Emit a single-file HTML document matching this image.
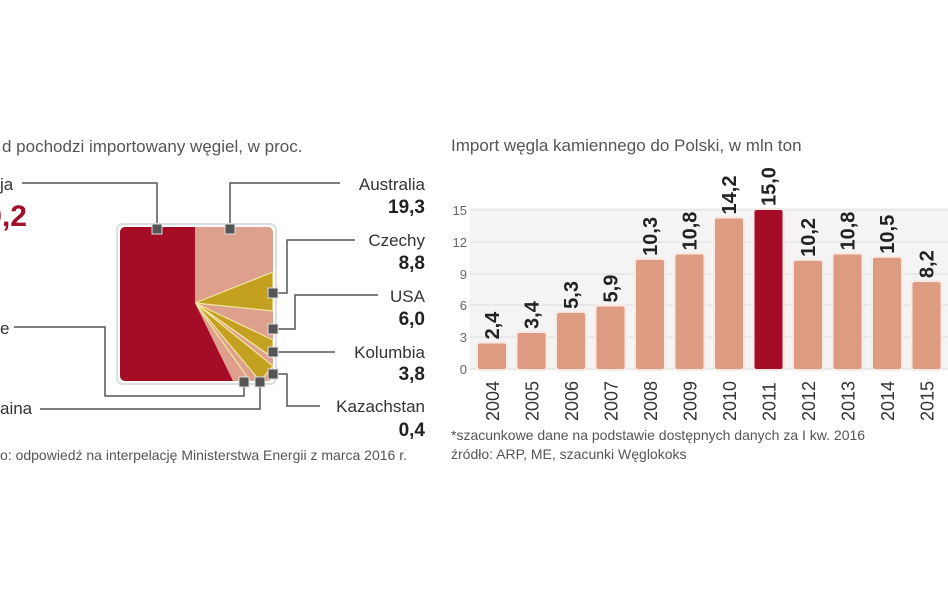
<!DOCTYPE html>
<html><head><meta charset="utf-8"><style>
html,body{margin:0;padding:0;background:#fff}
svg{display:block}
text{font-family:"Liberation Sans",sans-serif}
</style></head><body>
<svg width="948" height="593" viewBox="0 0 948 593">
<rect width="948" height="593" fill="#fff"/>
<!-- left panel -->
<text x="2" y="152" font-size="17" fill="#555">d pochodzi importowany węgiel, w proc.</text>
<text x="0" y="190" font-size="17" fill="#333">ja</text>
<text x="27" y="226" font-size="30" font-weight="bold" fill="#a0102a" text-anchor="end">0,2</text>
<text x="0" y="334" font-size="17" fill="#333">e</text>
<text x="0" y="414" font-size="17" fill="#333">aina</text>
<text x="0" y="460" font-size="14" fill="#555">o: odpowiedź na interpelację Ministerstwa Energii z marca 2016 r.</text>
<g stroke="#555" stroke-width="1.5" fill="none">
<polyline points="22,183 157,183 157,229"/>
<polyline points="230,229 230,183 340,183"/>
<polyline points="273,293 287,293 287,240 355,240"/>
<polyline points="273,329 295,329 295,295 378,295"/>
<polyline points="273,352 335,352"/>
<polyline points="273,374 287,374 287,406 320,406"/>
<polyline points="14,327 105,327 105,396 244,396 244,382"/>
<polyline points="40,409 260,409 260,382"/>
</g>
<rect x="117" y="224" width="159" height="160" rx="6" fill="#fff" stroke="#ddd" stroke-width="2"/>
<clipPath id="c"><rect x="120" y="227" width="153" height="154" rx="5"/></clipPath>
<g clip-path="url(#c)" stroke="#f3e6a0" stroke-width="1.2">
<rect x="120" y="227" width="153" height="154" fill="#dda08c" stroke="none"/>
<polygon points="195,303 273,272 273,311" fill="#c4a020"/>
<polygon points="195,303 273,340 273,358" fill="#c4a020"/>
<polygon points="195,303 273,366 260,381" fill="#c4a020"/>
<line x1="195" y1="303" x2="273" y2="358"/>
<line x1="195" y1="303" x2="250" y2="381"/>
<polygon points="120,227 195,227 195,303 233,381 120,381" fill="#a50d26" stroke="none"/>
</g>
<g fill="#555" stroke="#ddd" stroke-width="1">
<rect x="152" y="224" width="10" height="10"/><rect x="225" y="224" width="10" height="10"/>
<rect x="268" y="288" width="10" height="10"/><rect x="268" y="324" width="10" height="10"/>
<rect x="268" y="347" width="10" height="10"/><rect x="268" y="369" width="10" height="10"/>
<rect x="239" y="377" width="10" height="10"/><rect x="255" y="377" width="10" height="10"/>
</g>
<g font-size="17" fill="#333" text-anchor="end">
<text x="425" y="190">Australia</text><text x="425" y="246">Czechy</text>
<text x="425" y="302">USA</text><text x="425" y="358">Kolumbia</text><text x="425" y="412">Kazachstan</text>
</g>
<g font-size="19" font-weight="bold" fill="#222" text-anchor="end">
<text x="425" y="213">19,3</text><text x="425" y="269">8,8</text><text x="425" y="325">6,0</text>
<text x="425" y="380">3,8</text><text x="425" y="436">0,4</text>
</g>
<!-- right panel -->
<text x="451" y="151" font-size="17" fill="#555">Import węgla kamiennego do Polski, w mln ton</text>
<rect x="470" y="208" width="478" height="162" fill="#f4f4f4"/>
<g stroke="#ddd" stroke-width="1">
<line x1="470" y1="210" x2="948" y2="210"/><line x1="470" y1="242" x2="948" y2="242"/>
<line x1="470" y1="274" x2="948" y2="274"/><line x1="470" y1="305" x2="948" y2="305"/>
<line x1="470" y1="337" x2="948" y2="337"/><line x1="470" y1="369" x2="948" y2="369"/>
</g>
<g font-size="13" fill="#666" text-anchor="end">
<text x="467" y="215">15</text><text x="467" y="247">12</text><text x="467" y="279">9</text>
<text x="467" y="310">6</text><text x="467" y="342">3</text><text x="467" y="374">0</text>
</g>
<g id="bars"></g>
<text x="451" y="440" font-size="14" fill="#555">*szacunkowe dane na podstawie dostępnych danych za I kw. 2016</text>
<text x="451" y="459" font-size="14" fill="#555">źródło: ARP, ME, szacunki Węglokoks</text>
</svg>
<script>
var v=[2.4,3.4,5.3,5.9,10.3,10.8,14.2,15.0,10.2,10.8,10.5,8.2],g=document.getElementById('bars'),s='';
for(var i=0;i<12;i++){var x=478+i*39.5,h=v[i]*10.6,t=369-h,cx=x+14;
s+='<rect x="'+(x-2)+'" y="'+(t-2)+'" width="32" height="'+(h+4)+'" rx="4" fill="#fbe9e4"/>';
s+='<rect x="'+x+'" y="'+t+'" width="28" height="'+h+'" rx="2" fill="'+(i==7?'#a50d26':'#dd9b82')+'"/>';
s+='<text transform="translate('+(cx+7)+','+(t-4)+') rotate(-90)" font-size="20" font-weight="bold" fill="#222">'+v[i].toFixed(1).replace('.',',')+'</text>';
s+='<text transform="translate('+(cx+7)+',421) rotate(-90)" font-size="18" fill="#333">'+(2004+i)+'</text>';}
g.innerHTML=s;
</script>
</body></html>
